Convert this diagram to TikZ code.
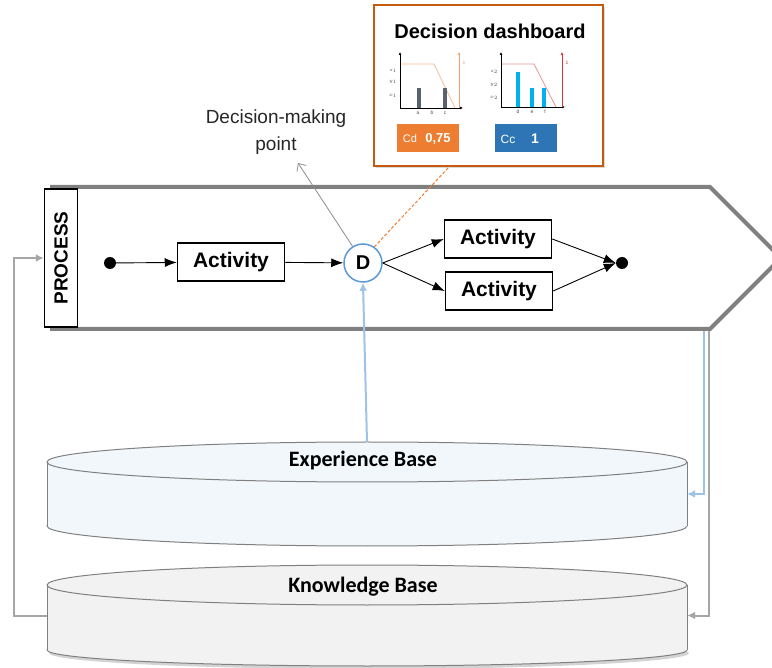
\documentclass[tikz,border=0pt]{standalone}
\usepackage{fontspec}
\setmainfont{Liberation Sans}
\newfontfamily\calibri{Carlito}
\usetikzlibrary{arrows.meta,shadows}

\definecolor{procgray}{RGB}{128,128,128}
\definecolor{decblue}{RGB}{91,155,213}
\definecolor{linkblue}{RGB}{157,195,230}
\definecolor{linkgray}{RGB}{166,166,166}
\definecolor{dashedge}{RGB}{197,90,17}
\definecolor{cdorange}{RGB}{237,125,49}
\definecolor{ccblue}{RGB}{46,117,182}
\definecolor{expfill}{RGB}{242,247,252}
\definecolor{knowfill}{RGB}{242,242,242}
\definecolor{baseedge}{RGB}{128,128,128}
\definecolor{bargray}{RGB}{90,98,110}
\definecolor{barblue}{RGB}{0,176,240}
\definecolor{paleorange}{RGB}{246,190,155}
\definecolor{arroworange}{RGB}{244,160,110}
\definecolor{palered}{RGB}{232,150,150}
\definecolor{arrowred}{RGB}{220,50,50}

\begin{document}
\begin{tikzpicture}[x=1pt, y=-1pt,
    activity/.style={draw, line width=1.5pt, fill=white, minimum width=107pt, minimum height=38pt, inner sep=0pt, font=\fontsize{21}{23}\selectfont\bfseries},
    dot/.style={circle, fill=black, minimum size=12pt, inner sep=0pt},
    flow/.style={-{Latex[length=12pt,width=9pt]}, line width=0.9pt},
    bluelink/.style={draw=linkblue, line width=2pt, -{Latex[length=8pt,width=8pt]}},
    graylink/.style={draw=linkgray, line width=2pt, -{Latex[length=8pt,width=8pt]}},
    basebody/.style={minimum width=640pt, inner sep=0pt},
    basetext/.style={font=\calibri\fontsize{22}{24}\selectfont\bfseries},
    chartaxis/.style={-{Latex[length=3pt,width=3pt]}, line width=0.6pt},
    tick/.style={font=\fontsize{5}{6}\selectfont, text=black!70, inner sep=0pt},
    scorebox/.style={minimum width=62pt, minimum height=28pt, inner sep=0pt}]

  \clip (0,0) rectangle (772,668);

  % process
  \draw[procgray, line width=4pt, fill=white] (50,187) -- (710,187) -- (781,258) -- (710,329) -- (50,329);
  \node[draw, line width=1.5pt, fill=white, rotate=90, minimum width=138pt, minimum height=33pt, inner sep=0pt,
        font=\fontsize{19}{21}\selectfont\bfseries] (proc) at (61,258) {PROCESS};
  \node[dot] (start) at (110,263) {};
  \node[activity] (act1) at (231,262) {Activity};
  \node[circle, draw=decblue, line width=1.5pt, fill=white, minimum size=38pt, inner sep=0pt,
        font=\fontsize{20}{22}\selectfont\bfseries] (dec) at (363,263) {D};
  \node[activity] (act2) at (498,239) {Activity};
  \node[activity] (act3) at (499,291) {Activity};
  \node[dot] (end) at (622,263) {};

  \draw[flow] (start) -- (act1);
  \draw[flow] (act1) -- (dec);
  \draw[flow] (dec.east) -- (act2.west);
  \draw[flow] (dec.east) -- (act3.west);
  \draw[flow] (act2.east) -- (end.west);
  \draw[flow] (act3.east) -- (end.west);

  % decision-making point
  \node[align=center, font=\fontsize{19}{27}\selectfont, text=black!85] (dmp) at (276,132) {Decision-making\\point};
  \coordinate (dmptip) at (298,163);
  \draw[black!45, line width=0.8pt, -{Straight Barb[length=6pt,width=11pt]}] (dec.122) -- (dmptip);

  % dashboard
  \node[draw=dashedge, line width=2pt, fill=white, minimum width=229pt, minimum height=161pt,
        drop shadow={opacity=0.3, shadow xshift=2pt, shadow yshift=-2pt}] (dash) at (488,85.5) {};
  \node[font=\fontsize{20}{22}\selectfont\bfseries] (dashtitle) at (490,31) {Decision dashboard};
  \coordinate (dashfoot) at (450,166);
  \draw[cdorange, line width=1pt, dash pattern=on 3pt off 2pt] (dec.55) -- (dashfoot);

  % chart one
  \draw[paleorange, line width=0.8pt] (400,64) -- (434,64) -- (455,108);
  \fill[bargray] (416.5,88) rectangle (420.5,108);
  \fill[bargray] (442.5,88) rectangle (446.5,108);
  \draw[chartaxis] (400,108) -- (400,52);
  \draw[chartaxis] (400,108) -- (463,108);
  \draw[arroworange, line width=0.6pt, -{Latex[length=3pt,width=3pt]}] (459,108) -- (459,52);
  \node[tick, text=arroworange] at (464,63) {1};
  \node[tick] at (393,71) {$z_1$};
  \node[tick] at (393,82) {$y_1$};
  \node[tick] at (393,96) {$x_1$};
  \node[tick] at (418,113) {a};
  \node[tick] at (432,113) {b};
  \node[tick] at (445,113) {c};

  % chart two
  \draw[palered, line width=0.8pt] (501,64) -- (534,64) -- (556,107);
  \fill[barblue] (516,72) rectangle (520,107);
  \fill[barblue] (530,88) rectangle (534,107);
  \fill[barblue] (542,88) rectangle (546,107);
  \draw[chartaxis] (501,107) -- (501,52);
  \draw[chartaxis] (501,107) -- (565,107);
  \draw[arrowred, line width=0.6pt, -{Latex[length=3pt,width=3pt]}] (562,107) -- (562,52);
  \node[tick, text=arrowred] at (567,63) {1};
  \node[tick] at (494,72) {$z_2$};
  \node[tick] at (494,85) {$y_2$};
  \node[tick] at (494,98) {$x_2$};
  \node[tick] at (518,112) {d};
  \node[tick] at (532,112) {e};
  \node[tick] at (545,112) {f};

  \node[scorebox, fill=cdorange] (cd) at (428,138.5) {};
  \node[text=white, font=\fontsize{11}{12}\selectfont] at (410,139) {Cd};
  \node[text=white, font=\fontsize{13}{14}\selectfont\bfseries] at (438,139) {0,75};
  \node[scorebox, fill=ccblue] (cc) at (526,138.5) {};
  \node[text=white, font=\fontsize{12}{13}\selectfont] at (508,139) {Cc};
  \node[text=white, font=\fontsize{14}{15}\selectfont\bfseries] at (535,139) {1};

  % experience base
  \node[basebody, minimum height=104pt] (exp) at (367,494) {};
  \filldraw[fill=expfill, draw=baseedge, line width=1pt] (367,526) ellipse [x radius=320, y radius=20];
  \fill[expfill] (47,462) rectangle (687,526);
  \draw[baseedge, line width=1pt] (47,462) -- (47,526) (687,462) -- (687,526);
  \filldraw[fill=expfill, draw=baseedge, line width=1pt] (367,462) ellipse [x radius=320, y radius=20];
  \node[basetext] (exptext) at (363,461) {Experience Base};

  % knowledge base
  \node[basebody, minimum height=103pt] (know) at (367,615.5) {};
  \filldraw[fill=knowfill, draw=baseedge, line width=1pt, drop shadow={opacity=0.35, shadow xshift=2pt, shadow yshift=-3pt}] (367,650) ellipse [x radius=320, y radius=16];
  \fill[knowfill] (47,585) rectangle (687,650);
  \draw[baseedge, line width=1pt] (47,585) -- (47,650) (687,585) -- (687,650);
  \filldraw[fill=knowfill, draw=baseedge, line width=1pt] (367,585) ellipse [x radius=320, y radius=20];
  \node[basetext] (knowtext) at (363,587) {Knowledge Base};

  % links
  \coordinate (procout1) at (704,331);
  \coordinate (procout2) at (709,331);
  \draw[bluelink] (exp.north) -- (dec.south);
  \draw[bluelink] (procout1) |- (exp.east);
  \draw[graylink] (procout2) |- (know.east);
  \draw[graylink] (know.west) -- ++(-33,0) |- (proc.north);
\end{tikzpicture}
\end{document}
